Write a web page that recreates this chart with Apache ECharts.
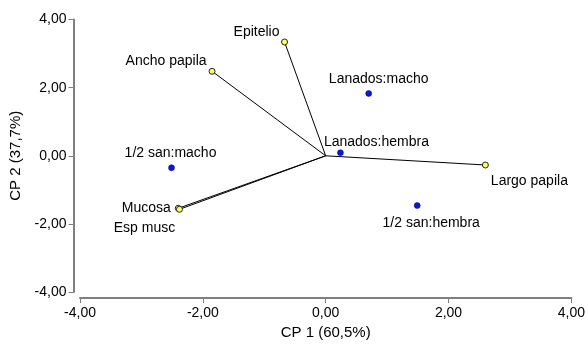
<!DOCTYPE html>
<html>
<head>
<meta charset="utf-8">
<script src="https://cdn.jsdelivr.net/npm/echarts@6/dist/echarts.min.js"></script>
<style>html,body{margin:0;padding:0;background:#fff;}#c{width:588px;height:345px;}</style>
</head>
<body>
<div id="c"></div>
<script>
// Observations (blue points)
const obsNames = ['Lanados:macho', 'Lanados:hembra', '1/2 san:macho', '1/2 san:hembra'];
const obsX = [0.70, 0.24, -2.51, 1.49];
const obsY = [1.83, 0.09, -0.35, -1.46];
// Variables (yellow points, vectors from origin)
const varNames = ['Epitelio', 'Ancho papila', 'Largo papila', 'Mucosa', 'Esp musc'];
const varX = [-0.67, -1.85, 2.60, -2.40, -2.38];
const varY = [3.34, 2.48, -0.27, -1.54, -1.57];
// Axes
const xTicks = [-4, -2, 0, 2, 4];
const yTicks = [-4, -2, 0, 2, 4];
const xName = 'CP 1 (60,5%)';
const yName = 'CP 2 (37,7%)';

// label placement (style only)
const labelOffset = {
  'Lanados:macho': [10, -14],
  'Lanados:hembra': [36, -11],
  '1/2 san:macho': [-1, -15],
  '1/2 san:hembra': [14, 18],
  'Epitelio': [-28, -10],
  'Ancho papila': [-46, -10],
  'Largo papila': [44, 16],
  'Mucosa': [-32, 0],
  'Esp musc': [-35, 19]
};

const fmt = v => v.toFixed(2).replace('.', ',');
const FONT = 'Liberation Sans, Arial, sans-serif';
const axisGray = '#7f7f7f';

function mkLabel(name) {
  return {
    show: true, position: 'inside', offset: labelOffset[name],
    formatter: name, color: '#000', fontSize: 14, fontFamily: FONT,
    align: 'center', verticalAlign: 'middle'
  };
}

const lineSeries = varNames.map((n, i) => ({
  type: 'line', silent: true, symbol: 'none', animation: false,
  data: [[0, 0], [varX[i], varY[i]]],
  lineStyle: { color: '#000', width: 1 }, z: 1
}));

const chart = echarts.init(document.getElementById('c'));
chart.setOption({
  animation: false,
  backgroundColor: '#fff',
  grid: { left: 80, right: 15, top: 19.5, bottom: 50 },
  xAxis: {
    type: 'value', min: -4, max: 4, interval: 2, offset: 6,
    name: xName, nameLocation: 'middle', nameGap: 26,
    nameTextStyle: { fontSize: 15, fontFamily: FONT, color: '#000' },
    axisLine: { show: true, onZero: false, lineStyle: { color: axisGray, width: 2 } },
    axisTick: { show: true, length: 5, lineStyle: { color: axisGray, width: 1 } },
    axisLabel: { fontSize: 14, fontFamily: FONT, color: '#000', margin: 8,
      formatter: v => xTicks.includes(v) ? fmt(v) : '' },
    splitLine: { show: false }
  },
  yAxis: {
    type: 'value', min: -4, max: 4, interval: 2, offset: 6.5,
    name: yName, nameLocation: 'middle', nameGap: 47,
    nameTextStyle: { fontSize: 15, fontFamily: FONT, color: '#000' },
    axisLine: { show: true, onZero: false, lineStyle: { color: axisGray, width: 2 } },
    axisTick: { show: true, length: 5, lineStyle: { color: axisGray, width: 1 } },
    axisLabel: { fontSize: 14, fontFamily: FONT, color: '#000', margin: 7,
      formatter: v => yTicks.includes(v) ? fmt(v) : '' },
    splitLine: { show: false }
  },
  series: [
    ...lineSeries,
    {
      type: 'scatter', symbolSize: 6, z: 3,
      itemStyle: { color: '#ffff66', borderColor: '#222', borderWidth: 1, opacity: 1 },
      data: varNames.map((n, i) => ({ name: n, value: [varX[i], varY[i]], label: mkLabel(n) }))
    },
    {
      type: 'scatter', symbolSize: 6, z: 3,
      itemStyle: { color: '#0a1ad0', borderColor: '#000080', borderWidth: 0.5, opacity: 1 },
      data: obsNames.map((n, i) => ({ name: n, value: [obsX[i], obsY[i]], label: mkLabel(n) }))
    }
  ]
});
</script>
</body>
</html>
